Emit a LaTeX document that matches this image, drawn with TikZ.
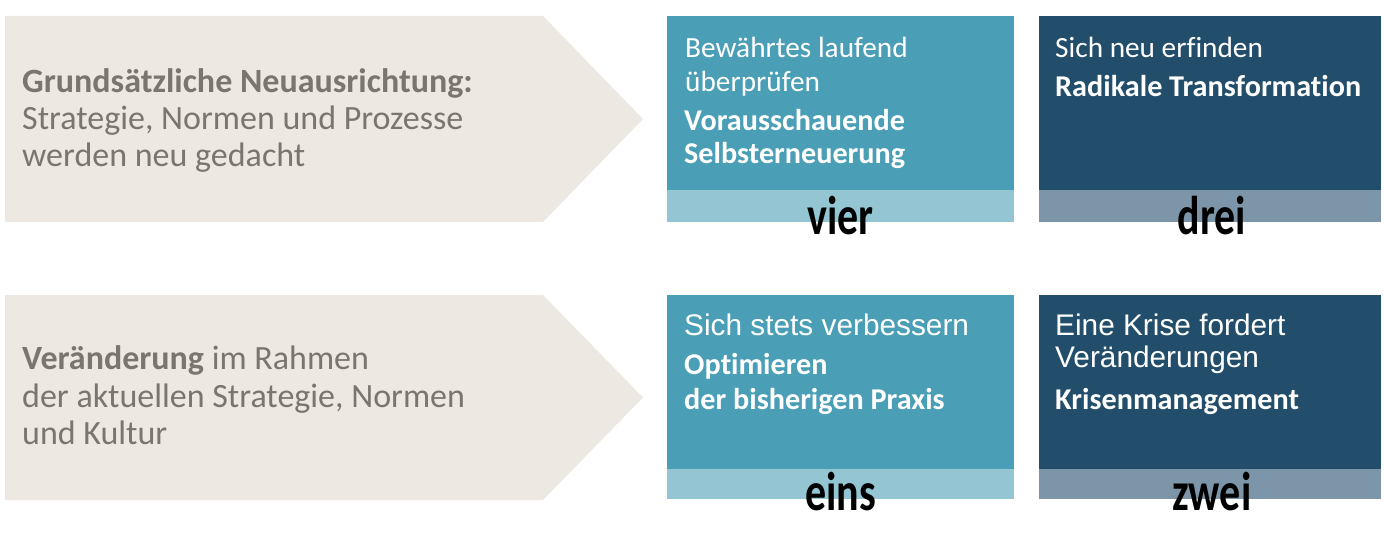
\documentclass[tikz,border=0pt]{standalone}
\usepackage{fontspec}
\setmainfont{Carlito}[Ligatures=CommonOff]
\newfontfamily\arialfont{Liberation Sans}
\definecolor{beige}{HTML}{EDE8E2}
\definecolor{greytext}{HTML}{7A756F}
\definecolor{teal}{HTML}{4A9EB5}
\definecolor{teallight}{HTML}{93C5D3}
\definecolor{darkblue}{HTML}{224E6B}
\definecolor{darkbar}{HTML}{7C95A8}
\tikzset{
  arrowshape/.style={fill=beige, draw=none},
  lefttxt/.style={anchor=base west, inner sep=0pt, text=greytext, font=\fontsize{34}{40}\selectfont},
  boxtxt/.style={anchor=base west, inner sep=0pt, text=white, font=\fontsize{29.3}{34}\selectfont},
  boxbold/.style={anchor=base west, inner sep=0pt, text=white, font=\fontsize{30.2}{35}\selectfont\bfseries},
  arialtxt/.style={anchor=base west, inner sep=0pt, text=white, font=\arialfont\fontsize{29.8}{34}\selectfont},
  numtxt/.style={anchor=base, inner sep=0pt, text=black, font=\fontsize{42}{48}\selectfont\bfseries},
}
\newcommand{\tallnum}[1]{\scalebox{1}[1.3]{#1}}
\begin{document}
\begin{tikzpicture}[x=1pt,y=-1pt]
\useasboundingbox (0,0) rectangle (1384,548);
% arrows
\fill[arrowshape] (5,16) -- (543,16) -- (643,119) -- (543,222) -- (5,222) -- cycle;
\fill[arrowshape] (5,295) -- (543,295) -- (643,397.5) -- (543,500) -- (5,500) -- cycle;
% boxes
\fill[teal] (667,16) rectangle (1014,190);
\fill[teallight] (667,190) rectangle (1014,222);
\fill[darkblue] (1039,16) rectangle (1381,190);
\fill[darkbar] (1039,190) rectangle (1381,222);
\fill[teal] (667,295) rectangle (1014,469);
\fill[teallight] (667,469) rectangle (1014,499);
\fill[darkblue] (1039,295) rectangle (1381,469);
\fill[darkbar] (1039,469) rectangle (1381,499);
% left texts
\node[lefttxt] (ta1) at (22,93) {\bfseries Grundsätzliche Neuausrichtung:};
\node[lefttxt] (ta2) at (22,130) {Strategie, Normen und Prozesse};
\node[lefttxt] (ta3) at (22,167) {werden neu gedacht};
\node[lefttxt] (ba1) at (22,369) {\bfseries Veränderung\mdseries\ im Rahmen};
\node[lefttxt] (ba2) at (22,407) {der aktuellen Strategie, Normen};
\node[lefttxt] (ba3) at (22,444) {und Kultur};
% box vier
\node[boxtxt] (v1) at (685,58) {Bewährtes laufend};
\node[boxtxt] (v2) at (685,92) {überprüfen};
\node[boxbold] (v3) at (684,131) {Vorausschauende};
\node[boxbold] (v4) at (684,164) {Selbsterneuerung};
\node[numtxt] (vier) at (840.5,234) {\tallnum{vier}};
% box drei
\node[boxtxt] (d1) at (1055,58) {Sich neu erfinden};
\node[boxbold] (d2) at (1055,97) {Radikale Transformation};
\node[numtxt] (drei) at (1212,234) {\tallnum{drei}};
% box eins
\node[arialtxt] (e1) at (684,335) {Sich stets verbessern};
\node[boxbold] (e2) at (684,374) {Optimieren};
\node[boxbold] (e3) at (684,409) {der bisherigen Praxis};
\node[numtxt] (eins) at (840.5,510) {\tallnum{eins}};
% box zwei
\node[arialtxt] (z1) at (1055,335) {Eine Krise fordert};
\node[arialtxt] (z2) at (1055,367) {Veränderungen};
\node[boxbold] (z3) at (1055,409) {Krisenmanagement};
\node[numtxt] (zwei) at (1212,510) {\tallnum{zwei}};
\end{tikzpicture}
\end{document}
